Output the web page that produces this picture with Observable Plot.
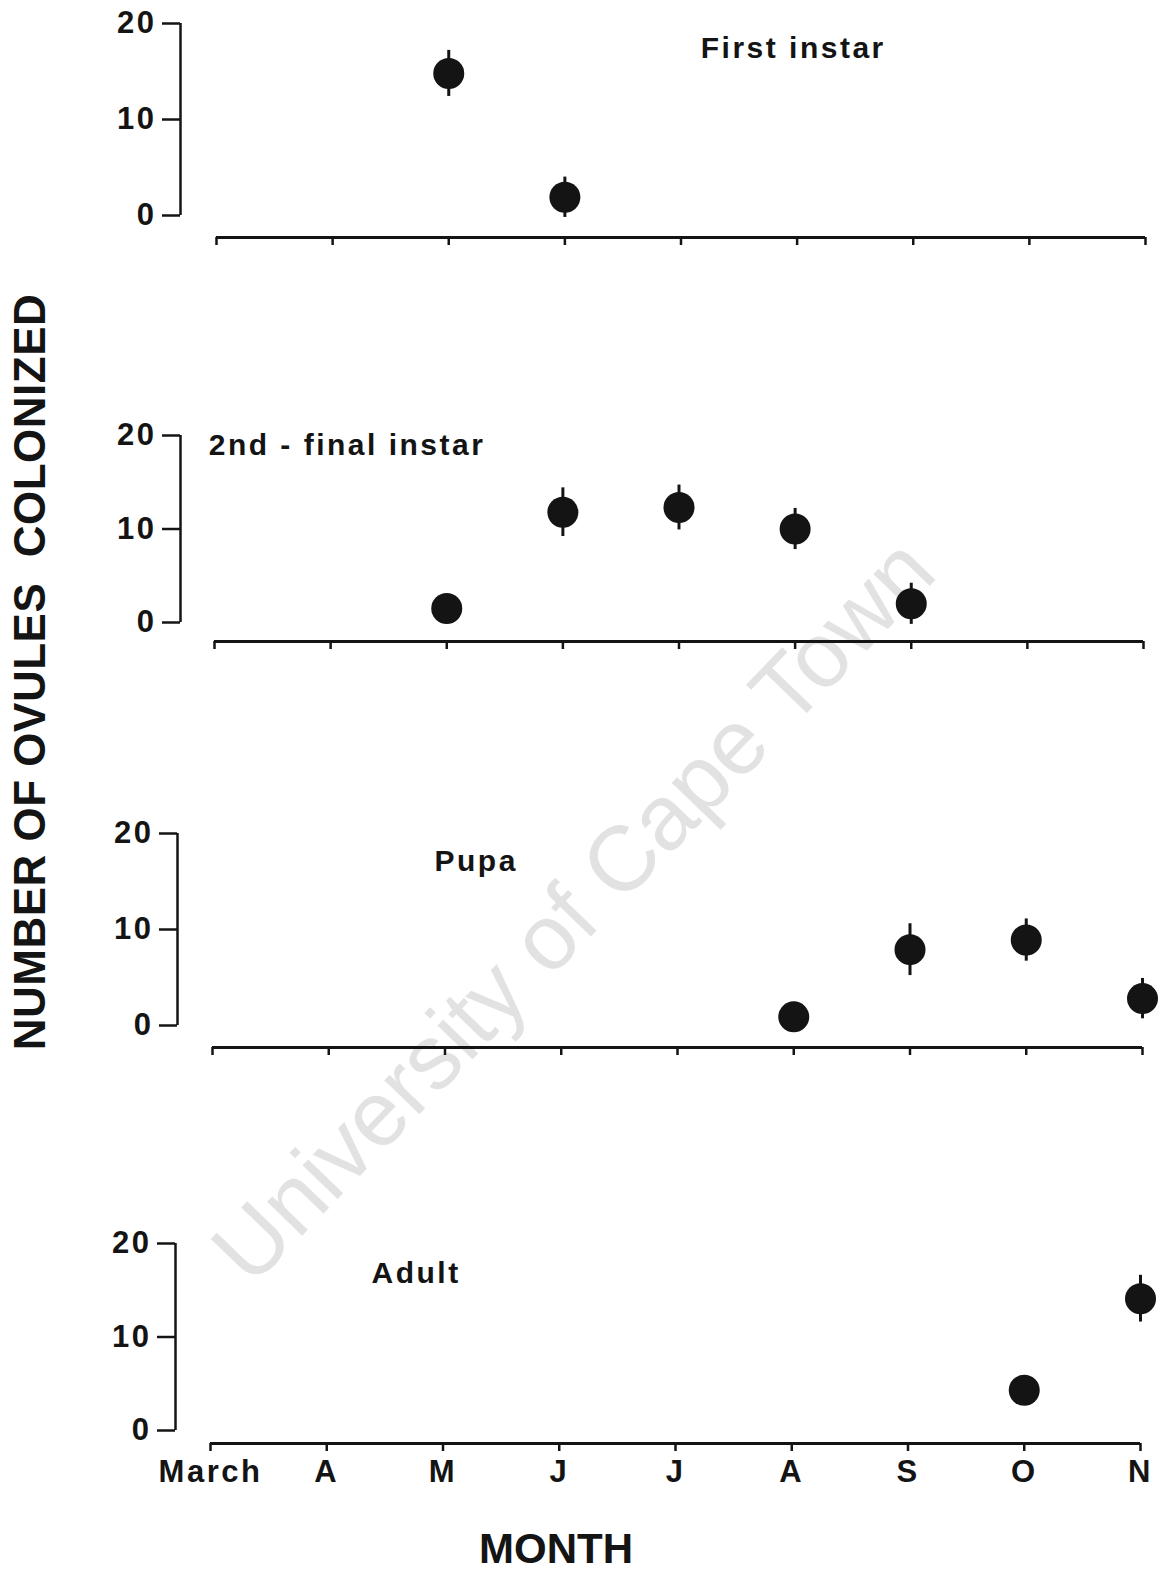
<!DOCTYPE html>
<html>
<head>
<meta charset="utf-8">
<script src="https://cdn.jsdelivr.net/npm/d3@7"></script>
<script src="https://cdn.jsdelivr.net/npm/@observablehq/plot@0.6"></script>
<style>
  body { margin: 0; background: #fff; }
  #wrap { position: relative; width: 1162px; height: 1571px; overflow: hidden; background: #fff;
          font-family: "Liberation Sans", Arial, sans-serif; }
  .back { position: absolute; left: 0; top: 0; z-index: 0; }
  .panel { position: absolute; left: 0; z-index: 1; }
  .panel text { letter-spacing: 2.5px; font-weight: bold; }
</style>
</head>
<body>
<div id="wrap"></div>
<script>
// ---- data ----
const monthLabels = ["March", "A", "M", "J", "J", "A", "S", "O", "N"];
const monthIdx = [0, 1, 2, 3, 4, 5, 6, 7, 8];
const yTicks = [0, 10, 20];

const firstMonths = [2, 3];
const firstMeans  = [14.8, 1.9];
const firstErrs   = [2.4, 2.1];

const secondMonths = [2, 3, 4, 5, 6];
const secondMeans  = [1.5, 11.8, 12.3, 10.0, 2.0];
const secondErrs   = [0, 2.6, 2.4, 2.2, 2.2];

const pupaMonths = [5, 6, 7, 8];
const pupaMeans  = [0.9, 7.9, 8.9, 2.8];
const pupaErrs   = [0, 2.7, 2.2, 2.1];

const adultMonths = [7, 8];
const adultMeans  = [4.3, 14.1];
const adultErrs   = [0, 2.5];

const panelTitles = ["First instar", "2nd - final instar", "Pupa", "Adult"];

// ---- layout ----
const W = 1162;
const layouts = [
  {y20: 23,   y0: 215,  march: 216, n: 1145, yAxisX: 180, xAxisY: 237,  lx: 4.17,  ly: 17.4, mb: 25},
  {y20: 435,  y0: 622,  march: 214, n: 1143, yAxisX: 180, xAxisY: 641,  lx: -0.05, ly: 18.9, mb: 25},
  {y20: 833,  y0: 1025, march: 212, n: 1142, yAxisX: 177, xAxisY: 1047, lx: 1.91,  ly: 17.1, mb: 25},
  {y20: 1243, y0: 1430, march: 210, n: 1140, yAxisX: 175, xAxisY: 1443, lx: 1.385, ly: 16.8, mb: 70}
];
const series = [
  [firstMonths, firstMeans, firstErrs],
  [secondMonths, secondMeans, secondErrs],
  [pupaMonths, pupaMeans, pupaErrs],
  [adultMonths, adultMeans, adultErrs]
];

const wrap = document.getElementById("wrap");
const FONT = '"Liberation Sans", Arial, sans-serif';
const INK = "#141414";

// background overlay: watermark + outer titles
const ns = "http://www.w3.org/2000/svg";
const back = document.createElementNS(ns, "svg");
back.setAttribute("class", "back");
back.setAttribute("width", W);
back.setAttribute("height", 1571);
back.innerHTML = `
  <text x="578" y="915" text-anchor="middle" dominant-baseline="middle"
        transform="rotate(-46 578 915)" font-family='${FONT}' font-size="92" fill="#e2e2e2">University of Cape Town</text>
  <text transform="translate(45,672) rotate(-90)" text-anchor="middle" font-family='${FONT}'
        font-size="44" font-weight="bold" fill="${INK}" style="white-space:pre" letter-spacing="0.5">NUMBER OF OVULES  COLONIZED</text>
  <text x="556" y="1563" text-anchor="middle" font-family='${FONT}' font-size="42" font-weight="bold" fill="${INK}">MONTH</text>
`;
wrap.appendChild(back);

layouts.forEach((g, k) => {
  const [ms, means, errs] = series[k];
  const data = ms.map((m, i) => ({m, v: means[i], e: errs[i]}));
  const inset = g.xAxisY - g.y0;
  const mt = 30;
  const shift = g.march - g.yAxisX;
  const last = k === layouts.length - 1;
  const chart = Plot.plot({
    width: W,
    height: mt + (g.y0 - g.y20) + inset + g.mb,
    marginTop: mt,
    marginBottom: g.mb,
    marginLeft: g.march,
    marginRight: W - g.n,
    insetBottom: inset,
    x: {domain: [0, 8]},
    y: {domain: [0, 20]},
    style: {fontFamily: FONT, fontSize: "31px", color: INK, background: "transparent", overflow: "visible"},
    marks: [
      Plot.ruleX([0], {y1: 0, y2: 20, dx: -shift, strokeWidth: 2.5, stroke: INK}),
      Plot.axisY({ticks: yTicks, tickSize: 18, tickPadding: 6, dx: -shift, strokeWidth: 2.5,
                  fontSize: 31, label: null}),
      Plot.ruleY([0], {dy: inset, strokeWidth: 3, stroke: INK}),
      Plot.axisX({ticks: monthIdx, tickSize: 8, tickPadding: 8, strokeWidth: 2.5, fontSize: 31, label: null,
                  tickFormat: last ? (i => monthLabels[i]) : (() => "")}),
      Plot.ruleX(data.filter(d => d.e > 0), {x: "m", y1: d => d.v - d.e, y2: d => d.v + d.e,
                  strokeWidth: 3, stroke: INK}),
      Plot.dot(data, {x: "m", y: "v", r: 15.5, fill: INK, stroke: "none"}),
      Plot.text([panelTitles[k]], {x: () => g.lx, y: () => g.ly, text: d => d, textAnchor: "start",
                  lineAnchor: "middle", fontSize: 30, fill: INK})
    ]
  });
  chart.classList.add("panel");
  chart.style.top = (g.y20 - mt) + "px";
  wrap.appendChild(chart);
});
</script>
</body>
</html>
